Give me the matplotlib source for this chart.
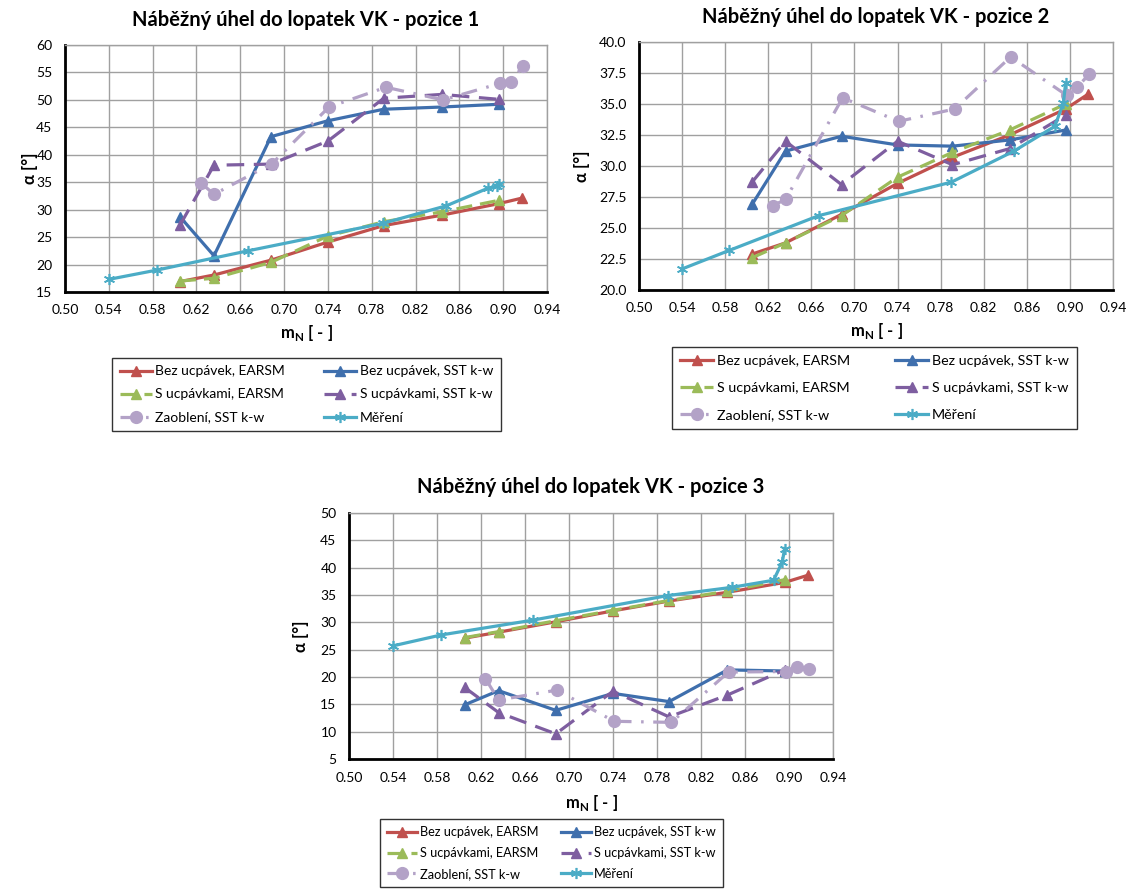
import matplotlib
matplotlib.use("Agg")
import matplotlib.pyplot as plt

plt.rcParams["font.family"] = ["Lato", "DejaVu Sans"]

# ---------------------------------------------------------------------------
# Data
# ---------------------------------------------------------------------------

M_CFD = [0.605, 0.636, 0.688, 0.740, 0.791, 0.844, 0.896, 0.917]
M_ZAOBLENI = [0.624, 0.636, 0.689, 0.741, 0.793, 0.845, 0.897, 0.907, 0.918]
M_MERENI = [0.540, 0.584, 0.667, 0.790, 0.848, 0.886, 0.894, 0.896]

TITLES = ["Náběžný úhel do lopatek VK - pozice 1",
          "Náběžný úhel do lopatek VK - pozice 2",
          "Náběžný úhel do lopatek VK - pozice 3"]

# pozice 1
P1_BEZ_EARSM = [16.9, 18.1, 20.8, 24.1, 27.1, 29.0, 31.1, 32.1]
P1_BEZ_SST = [28.7, 21.6, 43.3, 46.2, 48.3, 48.7, 49.2]
P1_S_EARSM = [17.0, 17.5, 20.4, 25.2, 27.8, 29.6, 31.7]
P1_S_SST = [27.2, 38.1, 38.3, 42.5, 50.3, 51.0, 50.1]
P1_ZAOBLENI = [34.9, 32.8, 38.4, 48.7, 52.3, 50.0, 53.0, 53.2, 56.2]
P1_MERENI = [17.3, 19.0, 22.5, 27.5, 30.7, 33.9, 34.3, 34.6]

# pozice 2
P2_BEZ_EARSM = [22.9, 23.8, 26.1, 28.6, 30.7, 32.5, 34.6, 35.8]
P2_BEZ_SST = [26.9, 31.2, 32.4, 31.7, 31.6, 32.1, 32.9]
P2_S_EARSM = [22.6, 23.8, 26.0, 29.1, 31.1, 32.9, 35.0]
P2_S_SST = [28.7, 32.0, 28.5, 32.0, 30.1, 31.4, 34.1]
P2_ZAOBLENI = [26.8, 27.3, 35.5, 33.6, 34.6, 38.8, 35.7, 36.4, 37.4]
P2_MERENI = [21.7, 23.2, 26.0, 28.7, 31.2, 33.2, 35.1, 36.7]

# pozice 3
P3_BEZ_EARSM = [27.1, 28.2, 30.1, 32.1, 33.9, 35.5, 37.3, 38.6]
P3_BEZ_SST = [14.9, 17.5, 13.9, 17.0, 15.5, 21.3, 21.1]
P3_S_EARSM = [27.2, 28.3, 30.3, 32.2, 34.0, 35.7, 37.8]
P3_S_SST = [18.1, 13.5, 9.6, 17.4, 12.7, 16.7, 21.3]
P3_ZAOBLENI = [19.7, 15.8, 17.6, 11.9, 11.7, 20.9, 21.0, 21.9, 21.5]
P3_MERENI = [25.7, 27.7, 30.4, 34.9, 36.4, 37.7, 41.1, 43.5]

X_TICKS = [0.50, 0.54, 0.58, 0.62, 0.66, 0.70, 0.74, 0.78, 0.82, 0.86, 0.90, 0.94]
Y_TICKS = [[15, 20, 25, 30, 35, 40, 45, 50, 55, 60],
           [20.0, 22.5, 25.0, 27.5, 30.0, 32.5, 35.0, 37.5, 40.0],
           [5, 10, 15, 20, 25, 30, 35, 40, 45, 50]]
Y_FMT = ["{:.0f}", "{:.1f}", "{:.0f}"]

LABELS = ["Bez ucpávek, EARSM", "Bez ucpávek, SST k-w", "S ucpávkami, EARSM",
          "S ucpávkami, SST k-w", "Zaoblení, SST k-w", "Měření"]

# ---------------------------------------------------------------------------
# Layout (pixel boxes: left, right, top, bottom)
# ---------------------------------------------------------------------------

W, H = 1133, 890
AX_BOX = [(65, 547, 45, 292), (639, 1113, 42, 290), (349, 833, 513, 759)]
LEG_BOX = [(113, 500, 356, 433), (675, 1074, 343, 433), (382, 721, 816, 890)]
LEG_FS = [10, 10.3, 9.2]
LEG_COLSP = [2.8, 3.2, 1.8]
LEG_ROWSP = [0.8, 1.05, 0.7]
TITLE_Y = [20, 17, 487]
XLABEL_Y = [333, 331, 803]
YLABEL_X = [30, 582, 301]

RED, BLUE, GREEN = "#C0504D", "#3F6FAD", "#9BBB59"
PURPLE, LAV, CYAN = "#7E5EA0", "#B3A2C7", "#4BACC6"
ASTER = (6, 2, 0)


def draw_panel(fig, i, series):
    l, r, t, b = AX_BOX[i]
    ax = fig.add_axes([l / W, 1 - b / H, (r - l) / W, (b - t) / H])
    bez_e, bez_s, s_e, s_s, zao, mer = series
    lw = 2.3
    h = {}
    h[0], = ax.plot(M_CFD[:len(bez_e)], bez_e, color=RED, lw=lw, marker="^", ms=7.5)
    h[1], = ax.plot(M_CFD[:len(bez_s)], bez_s, color=BLUE, lw=lw, marker="^", ms=7.5)
    h[2], = ax.plot(M_CFD[:len(s_e)], s_e, color=GREEN, lw=lw, marker="^", ms=7.5,
                    dashes=(5, 2.5))
    h[3], = ax.plot(M_CFD[:len(s_s)], s_s, color=PURPLE, lw=lw, marker="^", ms=7.5,
                    dashes=(5.5, 3))
    h[4], = ax.plot(M_ZAOBLENI, zao, color=LAV, lw=lw, marker="o", ms=8.5,
                    dashes=(5, 3, 0.8, 3))
    h[5], = ax.plot(M_MERENI, mer, color=CYAN, lw=lw, marker=ASTER, ms=8, mew=1.2)

    ax.set_xlim(0.50, 0.94)
    ax.set_ylim(Y_TICKS[i][0], Y_TICKS[i][-1])
    ax.set_xticks(X_TICKS)
    ax.set_xticklabels([f"{v:.2f}" for v in X_TICKS], fontsize=10)
    ax.set_yticks(Y_TICKS[i])
    ax.set_yticklabels([Y_FMT[i].format(v) for v in Y_TICKS[i]], fontsize=10)
    ax.tick_params(length=0)
    ax.tick_params(axis="y", pad=9)
    ax.tick_params(axis="x", pad=9)
    ax.grid(True, color="#a0a0a0", lw=1)
    ax.set_axisbelow(True)
    for side in ("top", "right"):
        ax.spines[side].set_color("#a0a0a0")
        ax.spines[side].set_linewidth(1)
    for side in ("left", "bottom"):
        ax.spines[side].set_color("black")
        ax.spines[side].set_linewidth(2)

    cx = (l + r) / 2 / W
    fig.text(cx, 1 - TITLE_Y[i] / H, TITLES[i], ha="center", va="center",
             fontsize=14.5, fontweight="bold")
    fig.text(cx, 1 - XLABEL_Y[i] / H, r"m$_\mathregular{N}$ [ - ]", ha="center",
             va="center", fontsize=12, fontweight="bold")
    fig.text(YLABEL_X[i] / W, 1 - (t + b) / 2 / H, "α [°]", ha="center",
             va="center", rotation=90, fontsize=12, fontweight="bold")

    ll, lr, lt, lb = LEG_BOX[i]
    order = [0, 2, 4, 1, 3, 5]
    leg = fig.legend([h[k] for k in order], [LABELS[k] for k in order], ncol=2,
                     loc="center",
                     bbox_to_anchor=((ll + lr) / 2 / W, 1 - (lt + lb) / 2 / H),
                     fontsize=LEG_FS[i], frameon=True, fancybox=False, numpoints=1,
                     handlelength=2.3, handletextpad=0.25, columnspacing=LEG_COLSP[i],
                     labelspacing=LEG_ROWSP[i], borderpad=0.55, borderaxespad=0)
    leg.get_frame().set_edgecolor("black")
    leg.get_frame().set_linewidth(1)


fig = plt.figure(figsize=(W / 100, H / 100), dpi=100)
draw_panel(fig, 0, [P1_BEZ_EARSM, P1_BEZ_SST, P1_S_EARSM, P1_S_SST, P1_ZAOBLENI, P1_MERENI])
draw_panel(fig, 1, [P2_BEZ_EARSM, P2_BEZ_SST, P2_S_EARSM, P2_S_SST, P2_ZAOBLENI, P2_MERENI])
draw_panel(fig, 2, [P3_BEZ_EARSM, P3_BEZ_SST, P3_S_EARSM, P3_S_SST, P3_ZAOBLENI, P3_MERENI])
fig.savefig("out.png", dpi=100)
